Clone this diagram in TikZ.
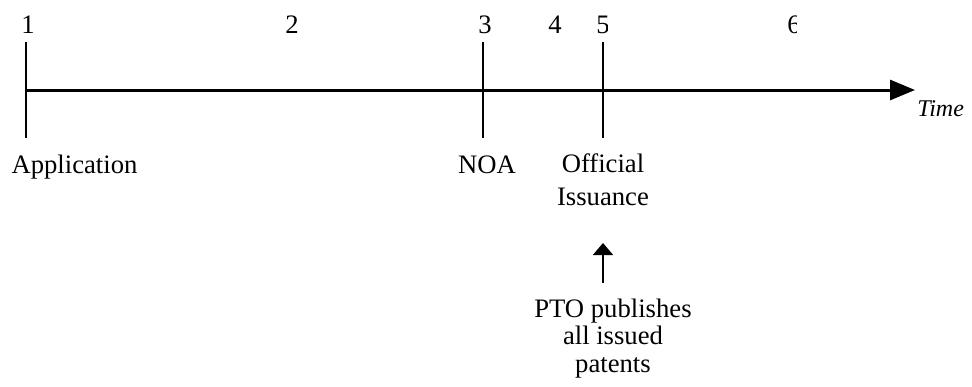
\documentclass[tikz,border=0pt]{standalone}
\usepackage{fontspec}
\setmainfont{Liberation Serif}
\usetikzlibrary{arrows.meta,positioning}

\tikzset{
  lbl/.style={inner sep=0.75pt, font=\fontsize{20}{20}\selectfont, align=center},
  tickline/.style={line width=1.5pt},
}

\begin{document}
\begin{tikzpicture}[x=0.75pt,y=0.75pt,yscale=-1,xscale=1]
\useasboundingbox (0,0) rectangle (972,386);

%Coordinates of the time line and the ticks
\coordinate (start) at (26,90);
\coordinate (end) at (915,90);
\foreach \name/\x in {one/26,three/483,five/603} {
  \coordinate (\name top) at (\x,42);
  \coordinate (\name bot) at (\x,138);
}
\coordinate (pubstart) at (603,283);
\coordinate (pubtip) at (603,243);

%Straight Lines: the time axis
\draw [line width=2.25pt, -{Triangle[length=18.75pt,width=15pt]}] (start) -- (end);
%Straight Lines: ticks
\draw [tickline] (onetop) -- (onebot);
\draw [tickline] (threetop) -- (threebot);
\draw [tickline] (fivetop) -- (fivebot);
%Straight Lines: publication arrow
\draw [line width=1.25pt, -{Triangle[length=9pt,width=15pt]}] (pubstart) -- (pubtip);

% Text Node: numbers above the axis
\node [lbl, anchor=base] (d1) at (28,33) {1};
\node [lbl, anchor=base] (d2) at (292,33) {2};
\node [lbl, anchor=base] (d3) at (485,33) {3};
\node [lbl, anchor=base] (d4) at (555,33) {4};
\begin{scope}
  \clip (580,0) rectangle (607,60);
  \node [lbl, anchor=base] (d5) at (603,33) {5};
\end{scope}
\begin{scope}
  \clip (770,0) rectangle (796,60);
  \node [lbl, anchor=base] (d6) at (794,33) {6};
\end{scope}

% Text Node
\node [anchor=base west, inner sep=0pt, font=\fontsize{18}{18}\selectfont\itshape] (time) at (917,116) {Time};
% Text Node
\node [lbl, anchor=base] (app) at (74.5,173) {Application};
% Text Node
\node [lbl, anchor=base] (noa) at (487,173) {NOA};
% Text Node
\node [lbl, anchor=base, font=\fontsize{20}{24.75}\selectfont] (issue) at (603,205) {Official\\Issuance};
% Text Node
\node [lbl, anchor=base, font=\fontsize{20}{20.6}\selectfont] (pto) at (613,372) {PTO publishes\\all issued\\patents};

\end{tikzpicture}
\end{document}
